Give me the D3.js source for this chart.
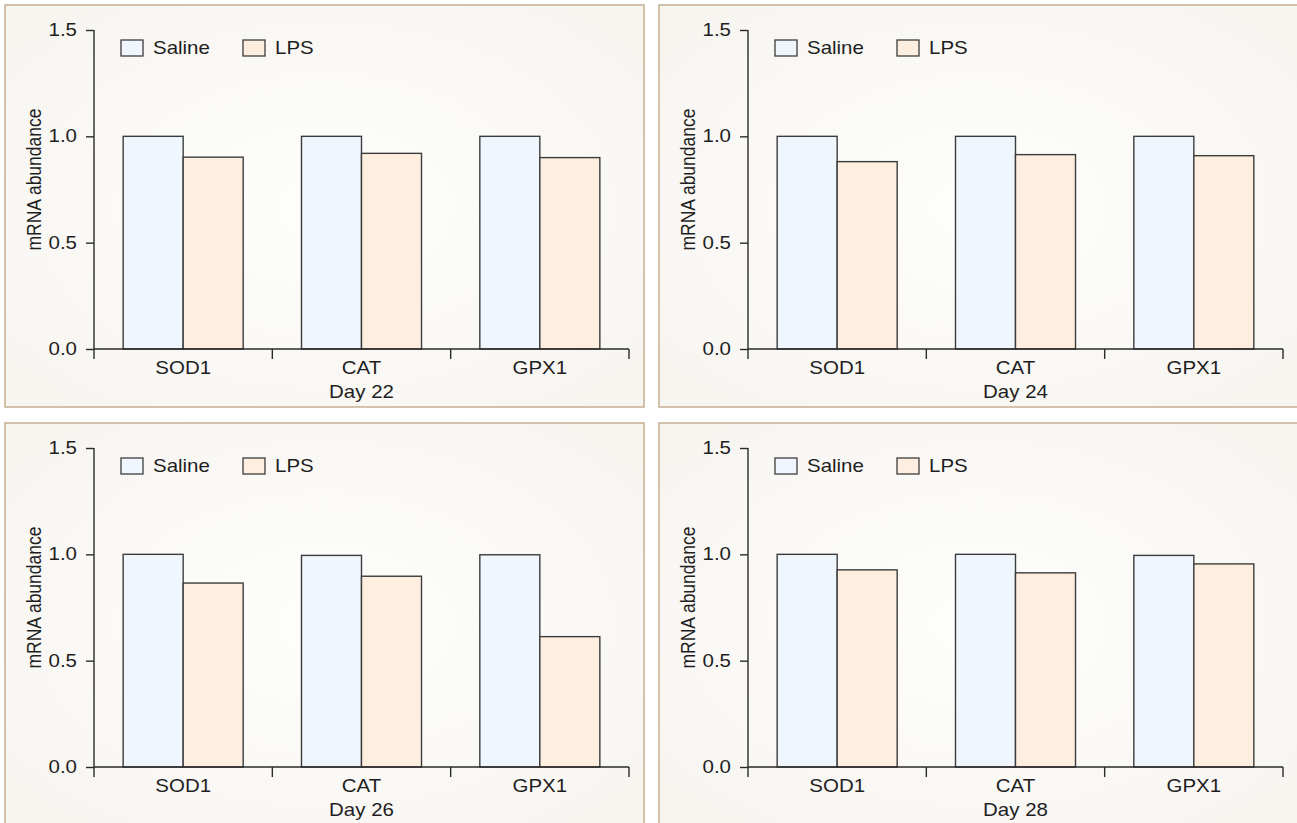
<!DOCTYPE html>
<html>
<head>
<meta charset="utf-8">
<script src="https://cdn.jsdelivr.net/npm/d3@7"></script>
<style>
  body { margin: 0; background: #ffffff; }
  svg { display: block; }
  text { font-family: "Liberation Sans", Arial, Helvetica, sans-serif; fill: #1e1e1e; }
</style>
</head>
<body>
<svg id="chart" width="1297" height="823"></svg>
<script>
// Genes on the x axis, treatment groups, and the sampling days
const genes = ["SOD1", "CAT", "GPX1"];
const groups = ["Saline", "LPS"];
const days = ["Day 22", "Day 24", "Day 26", "Day 28"];

// Relative mRNA abundance per gene (SOD1, CAT, GPX1)
const saline22 = [1.00, 1.00, 1.00];
const lps22    = [0.902, 0.920, 0.900];
const saline24 = [1.00, 1.00, 1.00];
const lps24    = [0.881, 0.914, 0.909];
const saline26 = [1.00, 0.995, 0.998];
const lps26    = [0.865, 0.897, 0.613];
const saline28 = [1.00, 1.00, 0.995];
const lps28    = [0.927, 0.913, 0.955];

const yTicks = [0, 0.5, 1.0, 1.5];
const yTitle = "mRNA abundance";

const panelData = [
  { day: days[0], Saline: saline22, LPS: lps22 },
  { day: days[1], Saline: saline24, LPS: lps24 },
  { day: days[2], Saline: saline26, LPS: lps26 },
  { day: days[3], Saline: saline28, LPS: lps28 }
];

const fills = { Saline: "#eff6fe", LPS: "#feeedf" };
const stroke = "#3c3c3c";
const axisColor = "#2a2a2a";

// Panel layout
const panelW = 639, panelH = 402;
const panelX = [5, 659], panelY = [5, 423];
const plot = { left: 89, right: 624, top: 25, bottom: 344 };

// Type is set slightly wide
const fontSize = "17.5px";
const stretch = 1.17;

const svg = d3.select("#chart");
const defs = svg.append("defs");
const grad = defs.append("radialGradient").attr("id", "panelBg")
  .attr("cx", "50%").attr("cy", "50%").attr("r", "65%");
grad.append("stop").attr("offset", "0%").attr("stop-color", "#fefefd");
grad.append("stop").attr("offset", "100%").attr("stop-color", "#f7f5f0");

const y = d3.scaleLinear().domain([0, 1.5]).range([plot.bottom, plot.top]);
const x0 = d3.scaleBand().domain(genes).range([plot.left, plot.right]).padding(0);
const groupWidth = x0.bandwidth() * 0.673;
const x1 = d3.scaleBand().domain(groups).range([0, groupWidth]).padding(0);

function label(parent, x, yPos, str, anchor, baseline) {
  return parent.append("text")
    .attr("transform", `translate(${x},${yPos}) scale(${stretch},1)`)
    .attr("text-anchor", anchor || "middle")
    .attr("dominant-baseline", baseline || "auto")
    .style("font-size", fontSize)
    .text(str);
}

panelData.forEach((p, i) => {
  const g = svg.append("g")
    .attr("transform", `translate(${panelX[i % 2]},${panelY[Math.floor(i / 2)]})`);

  g.append("rect")
    .attr("x", 0).attr("y", 0).attr("width", panelW).attr("height", panelH)
    .attr("fill", "url(#panelBg)")
    .attr("stroke", "#c8b498").attr("stroke-width", 1.6);

  // Bars
  const offset = (x0.bandwidth() - groupWidth) / 2;
  genes.forEach((gene, gi) => {
    groups.forEach(grp => {
      const v = p[grp][gi];
      g.append("rect")
        .attr("x", x0(gene) + offset + x1(grp))
        .attr("y", y(v))
        .attr("width", x1.bandwidth())
        .attr("height", y(0) - y(v))
        .attr("fill", fills[grp])
        .attr("stroke", stroke).attr("stroke-width", 1.4);
    });
  });

  // Y axis
  const yAxis = d3.axisLeft(y).tickValues(yTicks).tickFormat("").tickSize(8);
  const ya = g.append("g").attr("transform", `translate(${plot.left},0)`).call(yAxis);
  ya.select(".domain").attr("d", `M0,${y(1.5)}V${y(0)}`);
  ya.selectAll("line, .domain").attr("stroke", axisColor).attr("stroke-width", 1.4);
  yTicks.forEach(t => {
    label(g, plot.left - 17, y(t), d3.format(".1f")(t), "end", "central");
  });

  // X axis with ticks at group boundaries
  const bounds = genes.map(d => x0(d)).concat([plot.right]);
  const xa = g.append("g");
  xa.append("line")
    .attr("x1", plot.left).attr("x2", plot.right)
    .attr("y1", y(0)).attr("y2", y(0))
    .attr("stroke", axisColor).attr("stroke-width", 1.4);
  xa.selectAll("line.tick").data(bounds).enter().append("line")
    .attr("class", "tick")
    .attr("x1", d => d).attr("x2", d => d)
    .attr("y1", y(0)).attr("y2", y(0) + 10)
    .attr("stroke", axisColor).attr("stroke-width", 1.4);
  genes.forEach(gene => {
    label(xa, x0(gene) + x0.bandwidth() / 2, y(0) + 25, gene, "middle");
  });

  label(g, (plot.left + plot.right) / 2, y(0) + 49, p.day, "middle");

  // Y title
  g.append("text")
    .attr("transform", `translate(${plot.left - 60},${(y(0) + y(1.5)) / 2 - 10}) scale(${stretch},1) rotate(-90)`)
    .attr("text-anchor", "middle")
    .attr("dominant-baseline", "central")
    .style("font-size", fontSize)
    .text(yTitle);

  // Legend
  const lg = g.append("g").attr("transform", `translate(${plot.left + 27},35)`);
  groups.forEach((grp, k) => {
    const item = lg.append("g").attr("transform", `translate(${k * 122},0)`);
    item.append("rect").attr("x", 0).attr("y", 0).attr("width", 22).attr("height", 16)
      .attr("fill", fills[grp]).attr("stroke", stroke).attr("stroke-width", 1.3);
    label(item, 32, 8, grp, "start", "central");
  });
});
</script>
</body>
</html>
